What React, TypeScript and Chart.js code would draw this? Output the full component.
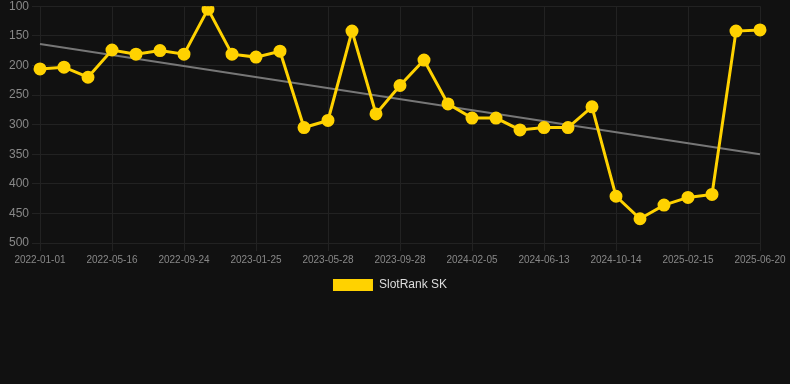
import { useEffect, useRef } from "react";
import { Chart, registerables } from "chart.js";

Chart.register(...registerables);

const labels = [
  "2022-01-01", "2022-02-15", "2022-03-31", "2022-05-16", "2022-06-28", "2022-08-11",
  "2022-09-24", "2022-11-04", "2022-12-15", "2023-01-25", "2023-03-07", "2023-04-17",
  "2023-05-28", "2023-07-08", "2023-08-18", "2023-09-28", "2023-11-10", "2023-12-24",
  "2024-02-05", "2024-03-18", "2024-04-30", "2024-06-13", "2024-07-24", "2024-09-03",
  "2024-10-14", "2024-11-25", "2025-01-05", "2025-02-15", "2025-03-28", "2025-05-09",
  "2025-06-20",
];

const slotRank = [
  206, 203, 220, 174, 181, 175, 181, 105, 181, 186, 176, 305,
  293, 142, 282, 234, 191, 265, 289, 289, 309, 305, 305, 270,
  421, 459, 436, 423, 418, 142, 140,
];

const trend = [
  164, null, null, null, null, null, null, null, null, null, null, null,
  null, null, null, null, null, null, null, null, null, null, null, null,
  null, null, null, null, null, null, 350,
];

const yTicks = { min: 100, max: 500, step: 50 };

const FONT = "Arial, 'Liberation Sans', sans-serif";

export default function App() {
  const ref = useRef<HTMLCanvasElement | null>(null);

  useEffect(() => {
    document.body.style.margin = "0";
    document.body.style.background = "#111111";
    document.body.style.overflow = "hidden";
    const canvas = ref.current;
    if (!canvas) return;
    const chart = new Chart(canvas, {
      type: "line",
      data: {
        labels,
        datasets: [
          {
            label: "SlotRank SK",
            data: slotRank,
            borderColor: "#FFD200",
            backgroundColor: "#FFD200",
            borderWidth: 3,
            pointRadius: 5,
            pointHoverRadius: 5,
            pointBackgroundColor: "#FFD200",
            pointBorderColor: "#FFD200",
            tension: 0,
            yAxisID: "y",
          },
          {
            label: "Trend",
            data: trend,
            borderColor: "#777777",
            backgroundColor: "#777777",
            borderWidth: 2,
            pointRadius: 0,
            spanGaps: true,
            tension: 0,
            yAxisID: "y",
          },
        ],
      },
      options: {
        responsive: false,
        animation: false,
        maintainAspectRatio: false,
        layout: { padding: { left: 0, right: 10 } },
        plugins: {
          legend: {
            position: "bottom",
            labels: {
              color: "#dddddd",
              boxWidth: 40,
              boxHeight: 12,
              font: { family: FONT, size: 12 },
              generateLabels: (c) =>
                Chart.defaults.plugins.legend.labels
                  .generateLabels(c)
                  .filter((item) => item.text !== "Trend")
                  .map((item) => ({ ...item, lineWidth: 0 })),
            },
          },
          tooltip: { enabled: false },
        },
        scales: {
          x: {
            grid: { color: "#222222" },
            border: { color: "#222222" },
            ticks: {
              color: "#888888",
              maxRotation: 0,
              autoSkip: true,
              maxTicksLimit: 11,
              font: { family: FONT, size: 10 },
            },
          },
          y: {
            reverse: true,
            min: yTicks.min,
            max: yTicks.max,
            afterFit: (scale) => {
              scale.width = 40;
            },
            grid: { color: "#222222" },
            border: { color: "#222222" },
            ticks: {
              stepSize: yTicks.step,
              color: "#888888",
              font: { family: FONT, size: 12 },
            },
          },
          y2: {
            position: "right",
            min: yTicks.min,
            max: yTicks.max,
            afterFit: (scale) => {
              scale.width = 20;
            },
            grid: { display: false, drawTicks: false },
            border: { display: false },
            ticks: { display: false },
          },
        },
      },
    });
    return () => chart.destroy();
  }, []);

  return (
    <canvas
      ref={ref}
      width={790}
      height={305}
      style={{ display: "block", marginTop: -4 }}
    />
  );
}
